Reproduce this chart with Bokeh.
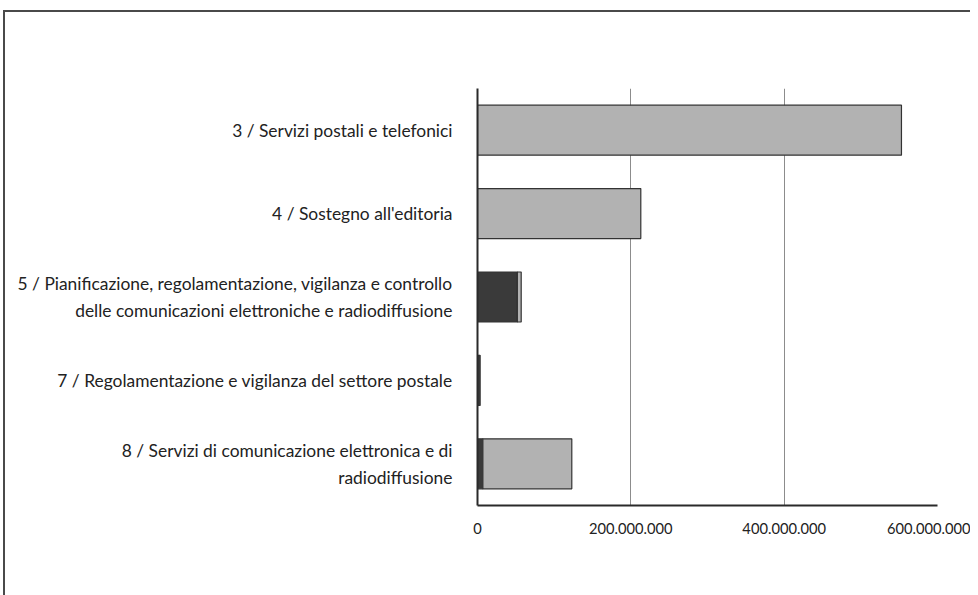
from bokeh.plotting import figure
from bokeh.models import (FactorRange, FixedTicker, Legend, LegendItem, ColumnDataSource)
from bokeh.embed import file_html
from bokeh.resources import INLINE

# ---- data ----
categories = [
    "3 / Servizi postali e telefonici",
    "4 / Sostegno all'editoria",
    "5 / Pianificazione, regolamentazione, vigilanza e controllo\ndelle comunicazioni elettroniche e radiodiffusione",
    "7 / Regolamentazione e vigilanza del settore postale",
    "8 / Servizi di comunicazione elettronica e di\nradiodiffusione",
]
costi_propri = [0, 0, 52000000, 3000000, 7000000]
costi_dislocati = [553000000, 213000000, 5000000, 300000, 116000000]
series_names = ["Costi Propri", "Costi Dislocati"]
x_ticks = [0, 200000000, 400000000, 600000000]
x_tick_labels = ["0", "200.000.000", "400.000.000", "600.000.000"]

# ---- style ----
FONT = "Lato"
DARK = "#3a3a3a"
LIGHT = "#b2b2b2"
TXT = "#222222"
AXIS = "#2a2a2a"

src = ColumnDataSource(dict(cat=categories, propri=costi_propri, dislocati=costi_dislocati))

p = figure(frame_width=460, frame_height=417, output_backend="svg", toolbar_location=None,
           y_range=FactorRange(*reversed(categories)), x_range=(0, 600000000),
           min_border_left=472, min_border_right=33, min_border_top=76,
           min_border_bottom=10)
p.outline_line_color = None
p.background_fill_color = "white"
p.border_fill_color = "white"
p.styles = {"border-top": "2px solid #4a4a4a", "border-left": "2px solid #4a4a4a",
            "margin-top": "10px", "margin-left": "3px"}

renderers = p.hbar_stack(["propri", "dislocati"], y="cat", height=0.6, source=src,
                         fill_color=[DARK, LIGHT], line_color="#333333", line_width=1.2)

# x axis
p.xaxis.ticker = FixedTicker(ticks=x_ticks)
p.xaxis.major_label_overrides = {t: l for t, l in zip(x_ticks, x_tick_labels)}
p.xaxis.major_tick_line_color = None
p.xaxis.minor_tick_line_color = None
p.xaxis.axis_line_color = AXIS
p.xaxis.axis_line_width = 2
p.xaxis.major_label_standoff = 11
p.xaxis.major_label_text_font = FONT
p.xaxis.major_label_text_font_size = "14.7px"
p.xaxis.major_label_text_color = TXT

# y axis with the category labels
p.yaxis.major_tick_line_color = None
p.yaxis.minor_tick_line_color = None
p.yaxis.axis_line_color = AXIS
p.yaxis.axis_line_width = 2
p.yaxis.major_label_standoff = 19
p.yaxis.major_label_text_font = FONT
p.yaxis.major_label_text_font_size = "17.4px"
p.yaxis.major_label_text_color = TXT
p.yaxis.major_label_text_line_height = 1.3

p.xgrid.grid_line_color = "#8c8c8c"
p.xgrid.grid_line_width = 1
p.ygrid.grid_line_color = None

legend = Legend(items=[LegendItem(label=nm, renderers=[r]) for nm, r in zip(series_names, renderers)],
                orientation="horizontal", location=(70, 27),
                label_text_font=FONT, label_text_font_size="16.5px", label_text_color=TXT,
                glyph_width=10, glyph_height=10, spacing=8, label_standoff=4,
                border_line_color=None, background_fill_alpha=0, margin=0, padding=0)
p.add_layout(legend, "below")

open("out.html", "w").write(file_html(p, INLINE))
